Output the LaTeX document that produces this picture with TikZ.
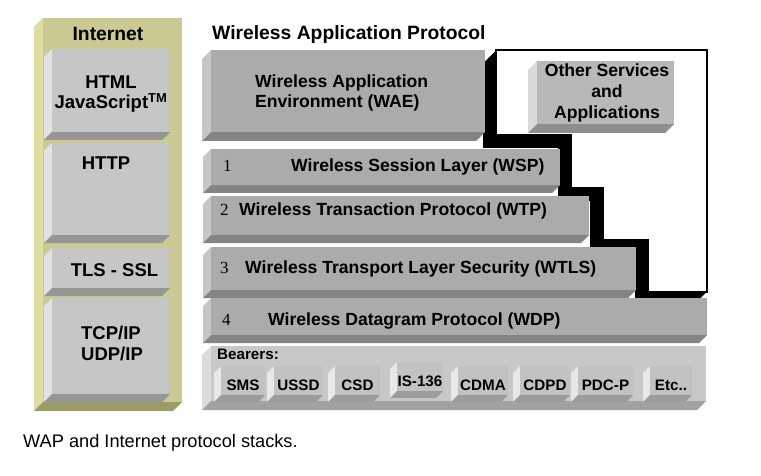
\documentclass[tikz,border=0pt]{standalone}
\usepackage{fontspec}
\setmainfont{Liberation Sans}
\newfontfamily\numfont{Liberation Serif}
\usepackage{tikz}

\definecolor{colfront}{HTML}{CBCA94}
\definecolor{colside}{HTML}{DEDDA2}
\definecolor{colbot}{HTML}{9C9B6A}
\definecolor{wapfront}{HTML}{ABABAB}
\definecolor{wapside}{HTML}{C6C6C6}
\definecolor{wapbot}{HTML}{848484}
\definecolor{netfront}{HTML}{C6C6C6}
\definecolor{netside}{HTML}{E2E2E2}
\definecolor{netbot}{HTML}{969696}
\definecolor{berfront}{HTML}{C8C8C8}
\definecolor{berside}{HTML}{DCDCDC}
\definecolor{berbot}{HTML}{A2A2A2}
\definecolor{subfront}{HTML}{C2C2C2}
\definecolor{subside}{HTML}{E8E8E8}
\definecolor{subbot}{HTML}{9C9C9C}
\definecolor{othfront}{HTML}{B8B8B8}
\definecolor{othside}{HTML}{DADADA}
\definecolor{othbot}{HTML}{8E8E8E}

\tikzset{
  colfront/.style={fill=colfront}, colside/.style={fill=colside}, colbot/.style={fill=colbot},
  wapfront/.style={fill=wapfront}, wapside/.style={fill=wapside}, wapbot/.style={fill=wapbot},
  netfront/.style={fill=netfront}, netside/.style={fill=netside}, netbot/.style={fill=netbot},
  berfront/.style={fill=berfront}, berside/.style={fill=berside}, berbot/.style={fill=berbot},
  subfront/.style={fill=subfront}, subside/.style={fill=subside}, subbot/.style={fill=subbot},
  othfront/.style={fill=othfront}, othside/.style={fill=othside}, othbot/.style={fill=othbot},
  title/.style={font=\fontsize{19.3}{22}\selectfont\bfseries},
  lab/.style={font=\fontsize{17.6}{21}\selectfont\bfseries},
  netlab/.style={font=\fontsize{18.5}{22}\selectfont\bfseries},
  sublab/.style={font=\fontsize{15.2}{18}\selectfont\bfseries},
  num/.style={font=\fontsize{17}{20}\selectfont\numfont},
  caption/.style={font=\fontsize{18.2}{21}\selectfont}
}

% bevelled slab: x1, y1, x2, y2, depth, palette
\newcommand\bevbox[6]{%
  \fill[#6side] (#1,#2) -- (#1,#4) -- (#1-#5,#4+#5) -- (#1-#5,#2+#5) -- cycle;
  \fill[#6bot] (#1,#4) -- (#3,#4) -- (#3-#5,#4+#5) -- (#1-#5,#4+#5) -- cycle;
  \fill[#6front] (#1,#2) rectangle (#3,#4);
}

\begin{document}
\begin{tikzpicture}[x=1pt,y=-1pt,every node/.style={inner sep=0pt}]
\useasboundingbox (0,0) rectangle (761,476);

% Internet column
\bevbox{43}{18}{182}{402}{9}{col}
\node[title] (inet) at (108,33.5) {Internet};

% stepped frame for other services
\foreach \d in {0,...,13}
  \fill[black,shift={(-\d,\d)}] (496,50) -- (707,50) -- (707,292) -- (648,292) -- (648,240)
    -- (603,240) -- (603,188) -- (571,188) -- (571,135) -- (496,135) -- cycle;
\filldraw[fill=white,draw=black,line width=1.2pt] (496,50) -- (707,50) -- (707,292) -- (648,292)
  -- (648,240) -- (603,240) -- (603,188) -- (571,188) -- (571,135) -- (496,135) -- cycle;

% WAP stack
\node[title,anchor=base west] (wap) at (212,40) {Wireless Application Protocol};
\bevbox{211}{50}{485}{132}{9}{wap}
\node[lab,anchor=base west] (wae1) at (255,88) {Wireless Application};
\node[lab,anchor=base west] (wae2) at (255,107.5) {Environment (WAE)};
\bevbox{537}{61}{674}{124}{9}{oth}
\node[lab,anchor=base] (oth1) at (607,77) {Other Services};
\node[lab,anchor=base] (oth2) at (607,98) {and};
\node[lab,anchor=base] (oth3) at (607,118.5) {Applications};
\bevbox{211}{149}{560}{185}{8}{wap}
\node[num,anchor=base west] (n1) at (223,172) {1};
\node[lab,anchor=base west] (wsp) at (291,172) {Wireless Session Layer (WSP)};
\bevbox{211}{196}{589}{235}{8}{wap}
\node[num,anchor=base west] (n2) at (220,215) {2};
\node[lab,anchor=base west] (wtp) at (239,215) {Wireless Transaction Protocol (WTP)};
\bevbox{211}{247}{636}{290}{8}{wap}
\node[num,anchor=base west] (n3) at (220,273.5) {3};
\node[lab,anchor=base west] (wtls) at (245,273.5) {Wireless Transport Layer Security (WTLS)};
\bevbox{211}{298}{707}{335}{8}{wap}
\node[num,anchor=base west] (n4) at (222,325.5) {4};
\node[lab,anchor=base west] (wdp) at (268,325.5) {Wireless Datagram Protocol (WDP)};

% bearers
\bevbox{211}{346}{706}{401}{9}{ber}
\node[sublab,anchor=base west] (bear) at (217,359.5) {Bearers:};
\foreach \xa/\xb/\ya/\t [count=\i] in {221/265/366/SMS, 274/323/366/USSD, 335/380/366/CSD,
    397/443/362/IS-136, 458/508/366/CDMA, 520/570/366/CDPD, 578/633/366/PDC-P, 650/692/366/Etc..}
{
  \bevbox{\xa}{\ya}{\xb}{\ya+29}{7}{sub}
  \node[sublab,anchor=base] (bearer\i) at ({(\xa+\xb)/2},\ya+24) {\t};
}

% Internet stack
\bevbox{52}{49}{170}{132}{8}{net}
\node[netlab,anchor=base] (html) at (111,88.5) {HTML};
\node[netlab,anchor=base] (js) at (111,108.5) {JavaScript\textsuperscript{TM}};
\bevbox{52}{143}{170}{235}{8}{net}
\node[netlab,anchor=base] (http) at (106,170) {HTTP};
\bevbox{52}{248}{170}{288}{8}{net}
\node[netlab,anchor=base] (tls) at (114.5,276) {TLS - SSL};
\bevbox{52}{298}{170}{394}{8}{net}
\node[netlab,anchor=base] (tcp) at (111,339.5) {TCP/IP};
\node[netlab,anchor=base] (udp) at (112,360) {UDP/IP};

\node[caption,anchor=base west] (cap) at (23,447) {WAP and Internet protocol stacks.};
\end{tikzpicture}
\end{document}
